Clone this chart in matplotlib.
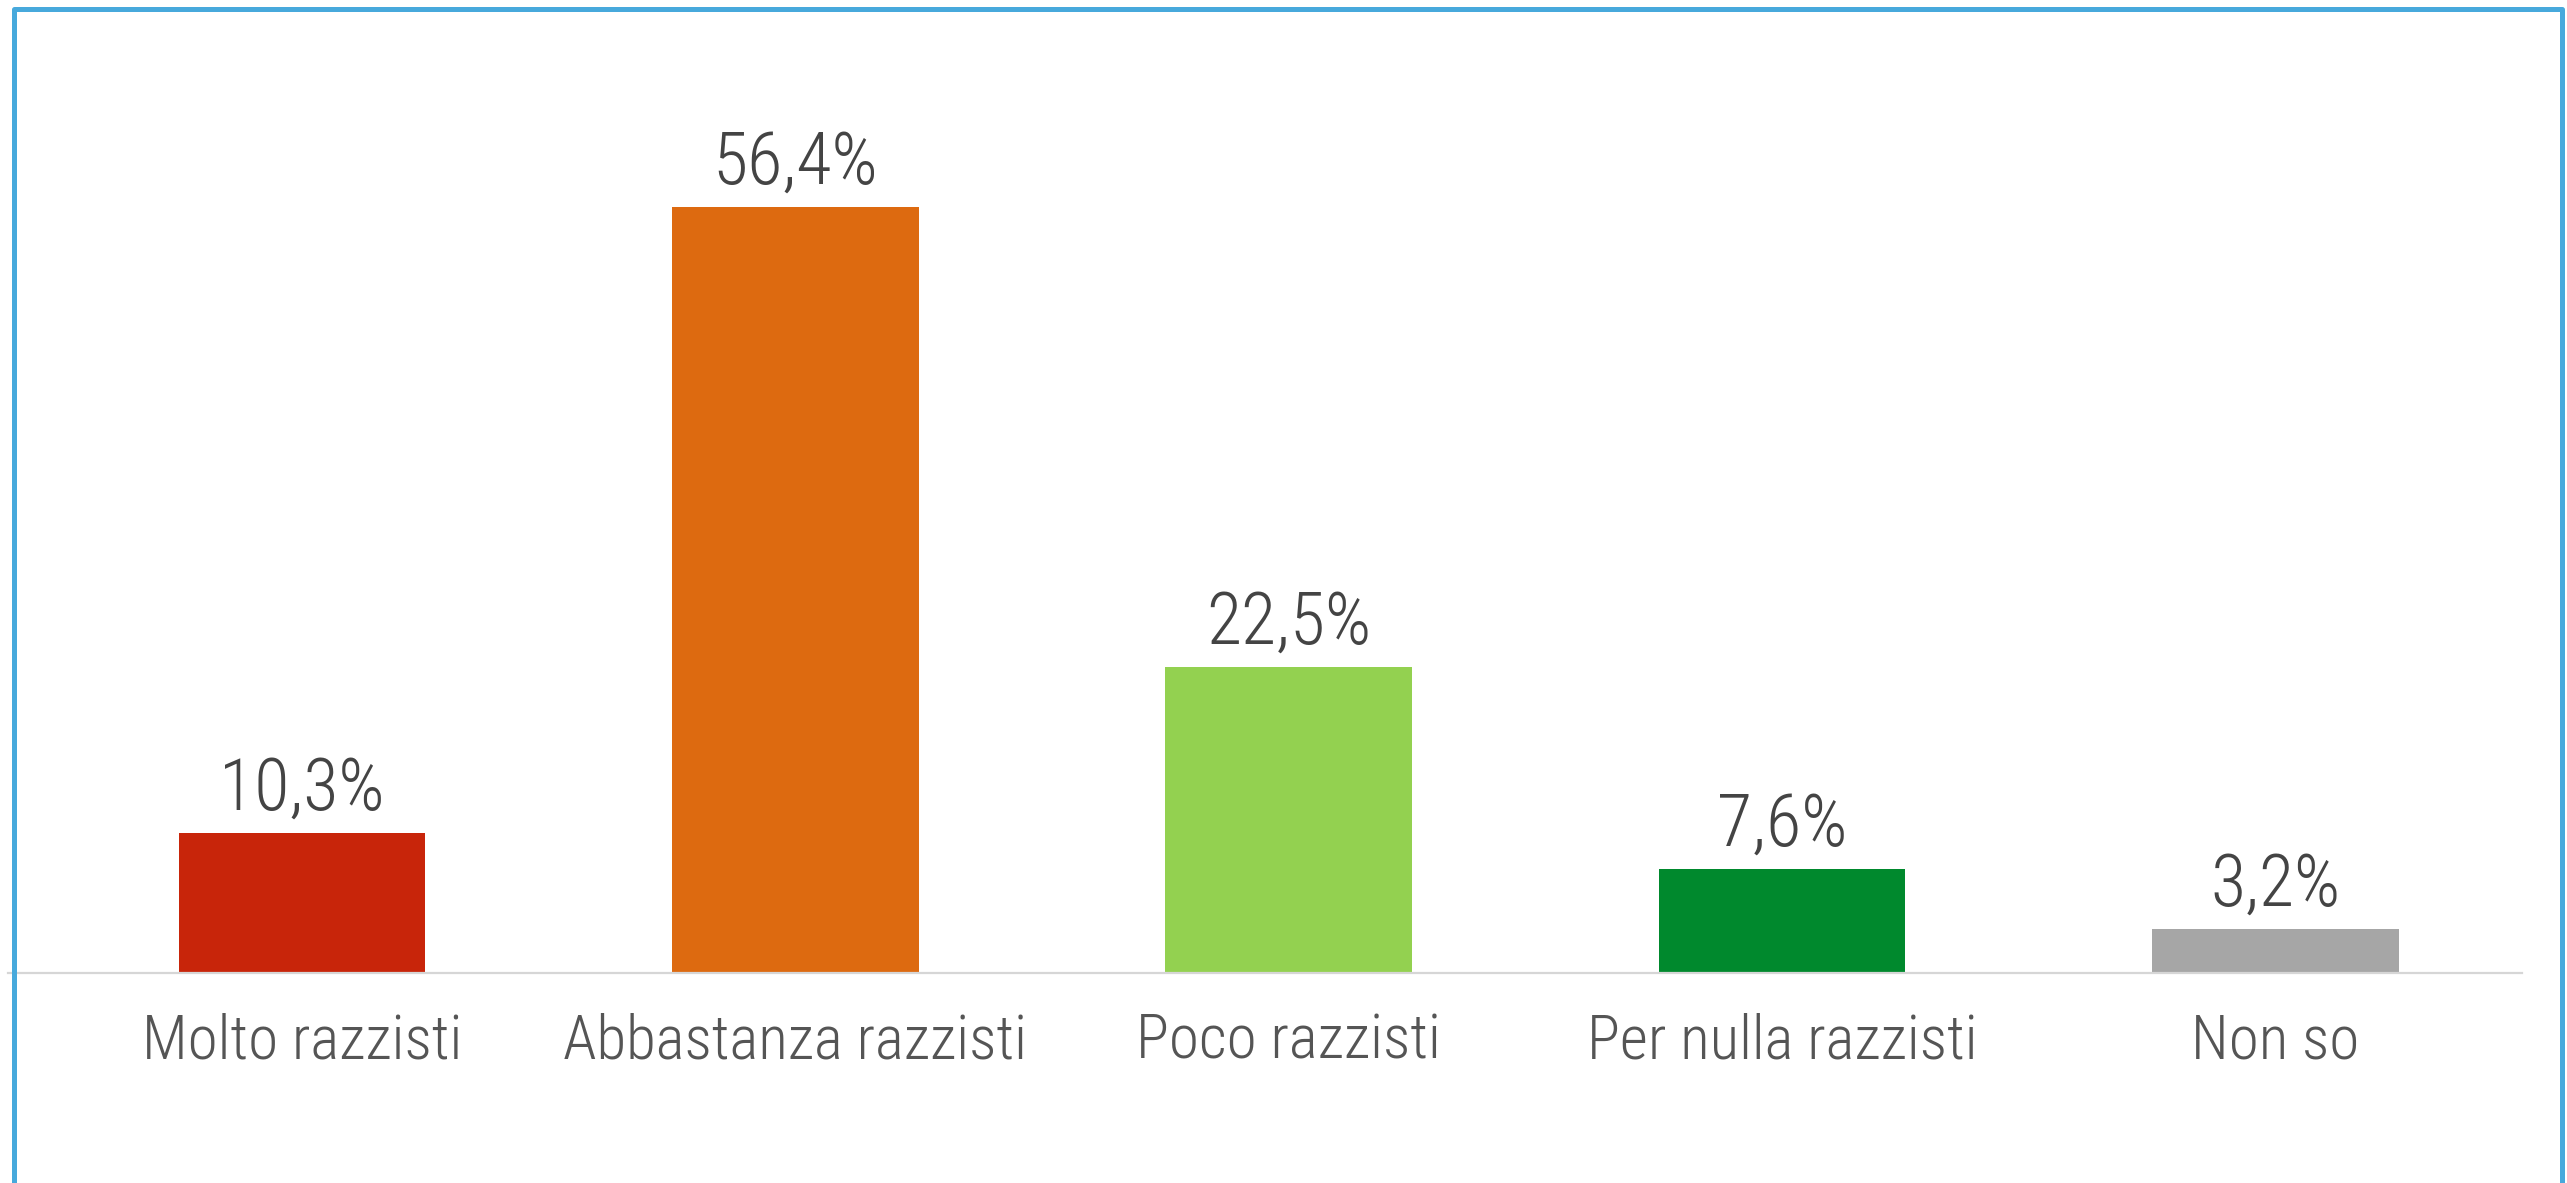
import matplotlib
matplotlib.use("Agg")
import matplotlib.pyplot as plt
from matplotlib.patches import Rectangle

categories = ["Molto razzisti", "Abbastanza razzisti", "Poco razzisti",
              "Per nulla razzisti", "Non so"]
values = [10.3, 56.4, 22.5, 7.6, 3.2]
colors = ["#C8250A", "#DD6A10", "#93D150", "#00892D", "#A6A6A6"]

plt.rcParams['font.family'] = ['Roboto Condensed', 'DejaVu Sans']
plt.rcParams['font.weight'] = 300

W, H, DPI = 2567, 1183, 100
fig = plt.figure(figsize=(W / DPI, H / DPI), dpi=DPI)
fig.patch.set_facecolor("white")

# axes placed in pixel units: baseline at y=972.7, 13.58 px per percent
px_per = 13.58
ymax = 60
base = 972.7
ax = fig.add_axes([8 / W, (H - base) / H, (2522 - 8) / W, ymax * px_per / H])

x = list(range(len(categories)))
ax.bar(x, values, width=0.5, color=colors, zorder=2)
ax.set_xlim(-0.596, 4.5)
ax.set_ylim(0, ymax)

for s in ["top", "left", "right"]:
    ax.spines[s].set_visible(False)
ax.spines["bottom"].set_color("#D6D6D6")
ax.spines["bottom"].set_linewidth(1.6)
ax.set_xticks([])
ax.set_yticks([])

for i, v in enumerate(values):
    label = f"{v:.1f}".replace(".", ",") + "%"
    ax.annotate(label, (i, v), xytext=(0, 17), textcoords="offset points",
                ha="center", va="baseline", fontsize=52, color="#444444",
                fontweight=300)
    ax.annotate(categories[i], (i, 0), xytext=(0, -62), textcoords="offset points",
                ha="center", va="baseline", fontsize=44, color="#555555",
                fontweight=300)

# light blue frame around the whole picture (bottom edge is cut off)
frame = Rectangle((14 / W, -0.05), (2562 - 14) / W, (H - 8.5) / H + 0.05,
                  transform=fig.transFigure, fill=False,
                  edgecolor="#47A9DC", linewidth=3.6, joinstyle="round",
                  clip_on=False)
fig.patches.append(frame)

fig.savefig("out.png", dpi=DPI)
